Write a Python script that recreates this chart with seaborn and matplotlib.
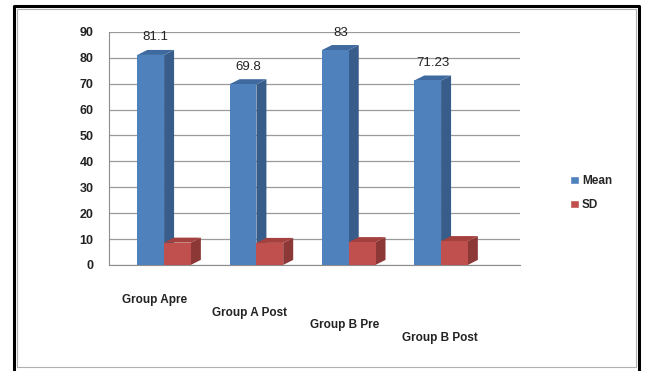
import numpy as np
import pandas as pd
import matplotlib
matplotlib.use("Agg")
import matplotlib.pyplot as plt
from matplotlib.patches import Polygon, Rectangle, Patch
from matplotlib.lines import Line2D
import seaborn as sns

# data
groups = ["Group Apre", "Group A Post", "Group B Pre", "Group B Post"]
mean_vals = [81.1, 69.8, 83, 71.23]
sd_vals = [8.6, 8.5, 8.8, 9.2]
mean_labels = ["81.1", "69.8", "83", "71.23"]

df = pd.DataFrame({
    "group": groups * 2,
    "value": mean_vals + sd_vals,
    "stat": ["Mean"] * 4 + ["SD"] * 4,
})

colors = {"Mean": "#4F81BD", "SD": "#C0504D"}
sides = {"Mean": "#385D8A", "SD": "#8C3836"}
tops = {"Mean": "#3E6AA0", "SD": "#A4403D"}

sns.set_style("white")
plt.rcParams["font.family"] = ["Liberation Sans", "DejaVu Sans"]

fig = plt.figure(figsize=(6.47, 3.71), dpi=100)
ax = fig.add_axes([0.168, 0.286, 0.635, 0.628])

sns.barplot(data=df, x="group", y="value", hue="stat", palette=colors,
            width=0.58, saturation=1, ax=ax, legend=False, zorder=3,
            edgecolor="none", linewidth=0)

ax.set_ylim(0, 90)
ax.set_yticks(np.arange(0, 91, 10))
ax.set_xlim(-0.6, 3.85)
ax.yaxis.grid(True, color="#9A9A9A", lw=0.9, zorder=0)
ax.set_xlabel("")
ax.set_ylabel("")
for s in ["top", "right"]:
    ax.spines[s].set_visible(False)
ax.spines["left"].set_color("#8C8C8C")
ax.spines["bottom"].set_color("#8C8C8C")
ax.tick_params(axis="y", labelsize=9, length=3, color="#8C8C8C", pad=8)
ax.tick_params(axis="x", length=0)
ax.set_xticks(range(len(groups)))
ax.set_xticklabels([""] * len(groups))
for t in ax.get_yticklabels():
    t.set_fontweight("bold")
    t.set_color("#222222")

# category labels step down like the perspective view
for i, g in enumerate(groups):
    ax.annotate(g, xy=(i, 0), xycoords=("data", "axes fraction"),
                xytext=(-7 + 2 * i, -21 - 9 * i), textcoords="offset points",
                ha="center", va="top", fontsize=8.5, fontweight="bold", color="#222222")

# pseudo 3D depth faces, computed from the drawn bars
fig.canvas.draw()
bb = ax.get_window_extent()
x0, x1 = ax.get_xlim()
y0, y1 = ax.get_ylim()
dx = 10 * (x1 - x0) / bb.width
dy = 5 * (y1 - y0) / bb.height
for cont, stat in zip(ax.containers, ["Mean", "SD"]):
    for p in cont:
        x, y = p.get_x(), p.get_y()
        w, h = p.get_width(), p.get_height()
        z = 2.5 if stat == "Mean" else 4.5
        ax.add_patch(Polygon([(x + w, y), (x + w + dx, y + dy), (x + w + dx, y + h + dy), (x + w, y + h)],
                             closed=True, fc=sides[stat], ec="none", zorder=z))
        ax.add_patch(Polygon([(x, y + h), (x + dx, y + h + dy), (x + w + dx, y + h + dy), (x + w, y + h)],
                             closed=True, fc=tops[stat], ec="none", zorder=z))
        p.set_zorder(z + 0.2)

for p, lab in zip(ax.containers[0], mean_labels):
    ax.text(p.get_x() + p.get_width() / 2 + dx / 2, p.get_height() + dy + 2.5, lab,
            ha="center", va="bottom", fontsize=9.5, color="#222222")

handles = [Patch(fc=colors["Mean"]), Patch(fc=colors["SD"])]
fig.legend(handles, ["Mean", "SD"], loc="center left", bbox_to_anchor=(0.865, 0.48),
           frameon=False, handlelength=0.7, handleheight=0.7, handletextpad=0.3,
           labelspacing=1.0, prop={"size": 8.5, "weight": "bold"})

# chart frame: thin gray inner border, thick black outer on left/top/right
fig.patches.append(Rectangle((0.026, 0.011), 0.957, 0.965, transform=fig.transFigure,
                             fill=False, ec="#B0B0B0", lw=0.8))
fig.lines.append(Line2D([0.021, 0.021, 0.988, 0.988], [0.0, 0.985, 0.985, 0.0],
                        transform=fig.transFigure, color="black", lw=2.2))

fig.savefig("out.png", dpi=100)
